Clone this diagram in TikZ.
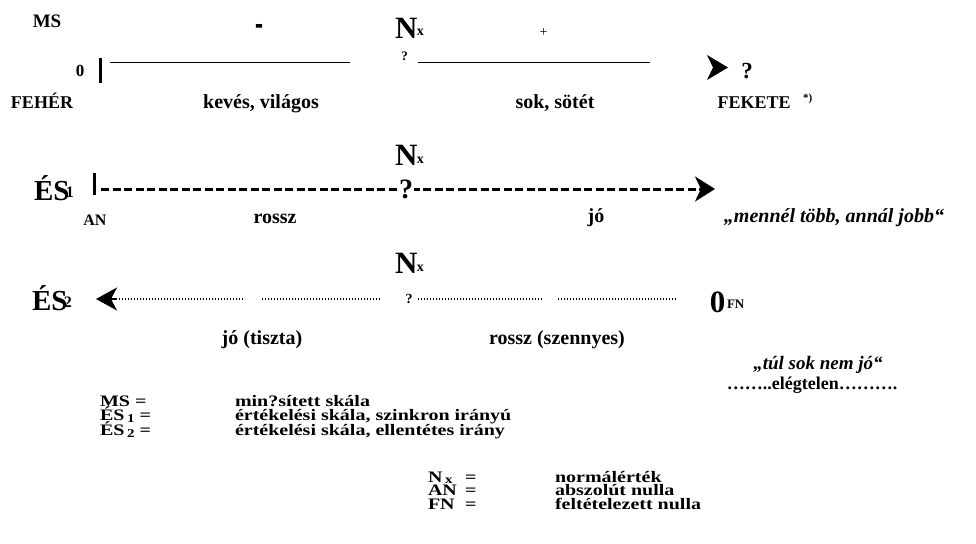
\documentclass[tikz,border=0pt]{standalone}
\usepackage{fontspec}
\setmainfont{Liberation Serif}
\newfontfamily\legfont[FakeStretch=1.25]{Liberation Serif}
\usetikzlibrary{arrows.meta}
\newcommand\fsz[1]{\fontsize{#1}{#1}\selectfont}
\newcommand\bigNx{{\fsz{31}N}\kern-0.5pt{\fsz{14}\raisebox{2pt}{x}}}
\newcommand\bigES[1]{{\fsz{29}ÉS}\kern-3.5pt{\fsz{16}\raisebox{3pt}{#1}}}
\begin{document}
\begin{tikzpicture}[x=1pt,y=-1pt,
  every node/.style={inner sep=0pt,outer sep=0pt},
  lbl/.style={anchor=base,font=\fsz{20}\bfseries},
  capl/.style={anchor=base,font=\fsz{18}\bfseries},
  quotel/.style={anchor=base,font=\fsz{20}\bfseries\itshape},
  leg/.style={anchor=base west,font=\legfont\fsz{16}\bfseries},
  barbox/.style={fill=black,minimum width=#1,minimum height=23pt},
  thinline/.style={line width=0.8pt},
  dashline/.style={line width=3pt,dash pattern=on 8pt off 3.5pt},
  dotline/.style={line width=1.6pt,dash pattern=on 1.4pt off 1.6pt},
]
\useasboundingbox (0,0) rectangle (976,543);

% ---------- row 1: MS ----------
\node[anchor=base,font=\fsz{19}\bfseries] (ms) at (47,28) {MS};
\node[anchor=base,font=\fsz{24}\bfseries] (minus) at (259,36.5) {\scalebox{1}[1.8]{-}};
\node[anchor=base west,font=\bfseries] (nx1) at (395,38) {\bigNx};
\node[anchor=base,font=\fsz{14}] (plus) at (543.5,37) {+};
\node[anchor=base,font=\fsz{17}\bfseries] (zero1) at (80,77) {0};
\node[barbox=3pt,minimum height=25pt] (bar1) at (100.5,70.5) {};
\coordinate (l1a) at (110,62);
\coordinate (l1b) at (350,62);
\coordinate (l1c) at (418,62);
\coordinate (l1d) at (650,62);
\draw[thinline] (l1a) -- (l1b);
\draw[thinline] (l1c) -- (l1d);
\node[anchor=base,font=\fsz{13}\bfseries] (q1) at (404.5,60) {?};
\fill (707,55) -- (728,67.5) -- (707,80) -- (713,67.5) -- cycle;
\node[anchor=base,font=\fsz{23}\bfseries] (q1b) at (747,78) {?};
\node[capl] (feher) at (42,108) {FEHÉR};
\node[lbl] (keves) at (261,108) {kevés, világos};
\node[lbl] (sok) at (555,108) {sok, sötét};
\node[capl] (fekete) at (754,108) {FEKETE};
\node[anchor=base west,font=\fsz{11}\bfseries] (star) at (803,101) {*)};

% ---------- row 2: ES1 ----------
\node[anchor=base west,font=\bfseries] (es1) at (34,200) {\bigES{1}};
\node[anchor=base west,font=\bfseries] (nx2) at (395,165) {\bigNx};
\node[barbox=2.5pt,minimum height=22pt] (bar2) at (94.5,184) {};
\coordinate (d2a) at (101,189);
\coordinate (d2b) at (715,189);
\draw[dashline,-{Stealth[length=20pt,width=25pt,inset=6pt]}] (d2a) -- (d2b);
\node[anchor=base,font=\fsz{28}\bfseries,fill=white,inner xsep=1pt] (q2) at (406,198) {?};
\node[anchor=base,font=\fsz{16}\bfseries] (an) at (95,225) {AN};
\node[lbl] (rossz) at (275,223) {rossz};
\node[lbl] (jo) at (596,222) {jó};
\node[quotel] (mennel) at (834,222) {„mennél több, annál jobb“};

% ---------- row 3: ES2 ----------
\node[anchor=base west,font=\bfseries] (es2) at (32,310) {\bigES{2}};
\node[anchor=base west,font=\bfseries] (nx3) at (395,273) {\bigNx};
\coordinate (d3a) at (96,299);
\coordinate (d3a2) at (116,299);
\coordinate (d3b) at (245,299);
\coordinate (d3c) at (262,299);
\coordinate (d3d) at (380,299);
\coordinate (d3e) at (418,299);
\coordinate (d3f) at (542,299);
\coordinate (d3g) at (558,299);
\coordinate (d3h) at (677,299);
\draw[line width=1.6pt,{Stealth[length=21pt,width=23pt,inset=6pt]}-] (d3a) -- (d3a2);
\draw[dotline] (d3a2) -- (d3b);
\draw[dotline] (d3c) -- (d3d);
\draw[dotline] (d3e) -- (d3f);
\draw[dotline] (d3g) -- (d3h);
\node[anchor=base,font=\fsz{14}\bfseries] (q3) at (409,303) {?};
\node[anchor=base,font=\fsz{31}\bfseries] (zero3) at (717.5,312) {0};
\node[anchor=base west,font=\fsz{13}\bfseries] (fn) at (727,308) {FN};
\node[lbl] (jot) at (262,344) {jó (tiszta)};
\node[lbl] (rosszsz) at (557,344) {rossz (szennyes)};
\node[quotel,font=\fsz{19}\bfseries\itshape] (tul) at (818,369) {„túl sok nem jó“};
\node[capl] (eleg) at (812,389) {……..elégtelen……….};

% ---------- legend ----------
\node[leg] (lms) at (100,406) {MS =};
\node[leg] (lmsd) at (235,406) {min?sített skála};
\node[leg] (les1) at (100,420.5) {ÉS\,\raisebox{-2pt}{\fsz{12}1} =};
\node[leg] (les1d) at (235,420.5) {értékelési skála, szinkron irányú};
\node[leg] (les2) at (100,435) {ÉS\,\raisebox{-2pt}{\fsz{12}2} =};
\node[leg] (les2d) at (235,435) {értékelési skála, ellentétes irány};

\node[leg] (lnx) at (428,482) {N\,\raisebox{-1.5pt}{\fsz{12}x}};
\node[leg] (lnxe) at (465,482) {=};
\node[leg] (lnxd) at (555,482) {normálérték};
\node[leg] (lan) at (428,495.5) {AN};
\node[leg] (lane) at (465,495.5) {=};
\node[leg] (land) at (555,495.5) {abszolút nulla};
\node[leg] (lfn) at (428,509) {FN};
\node[leg] (lfne) at (465,509) {=};
\node[leg] (lfnd) at (555,509) {feltételezett nulla};
\end{tikzpicture}
\end{document}
